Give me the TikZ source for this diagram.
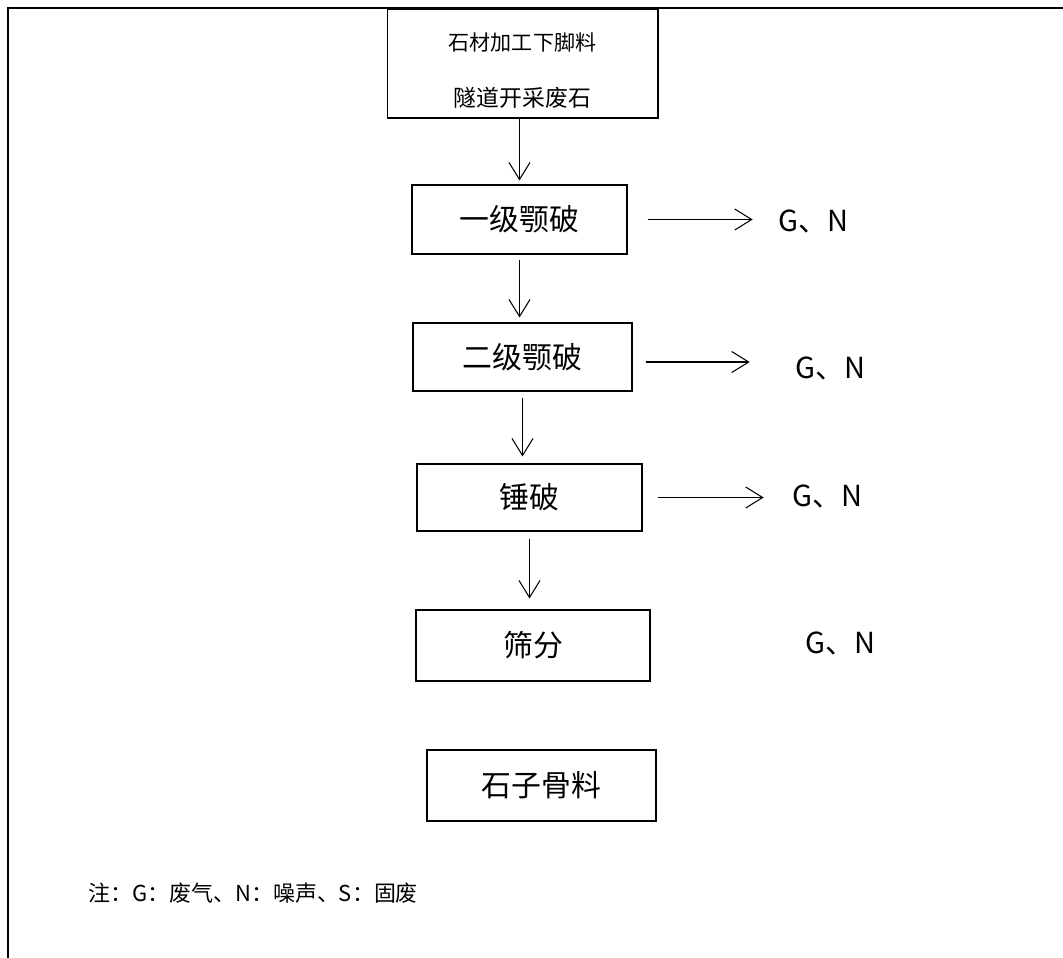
\documentclass[tikz,border=0pt]{standalone}
\usepackage{fontspec}
\setmainfont{Noto Sans CJK SC}
\usetikzlibrary{arrows.meta}

\begin{document}
\begin{tikzpicture}[x=0.02cm, y=-0.02cm,
  box/.style={draw, line width=0.6pt, inner sep=0pt, font=\fontsize{17}{19}\selectfont},
  arr/.style={-{Straight Barb[length=3.4mm,width=4.2mm]}, line width=0.6pt},
  gnlabel/.style={font=\fontsize{16.5}{18}\selectfont, inner sep=0pt}]
\useasboundingbox (0,0) rectangle (1063,958);

% Frame
\draw[line width=0.8pt] (8,958) -- (8,8) -- (1063,8);

% Raw material
\node[box, minimum width=5.42cm, minimum height=2.18cm] (src) at (522.5,63.5) {};
\node[font=\fontsize{12}{14}\selectfont, inner sep=0pt] (srcA) at (522.5,42) {石材加工下脚料};
\node[font=\fontsize{13}{15}\selectfont, inner sep=0pt] (srcB) at (522.5,98) {隧道开采废石};

% Crushing steps
\node[box, minimum width=4.30cm, minimum height=1.38cm] (crush1) at (519.5,219.5) {一级颚破};
\node[box, minimum width=4.38cm, minimum height=1.36cm] (crush2) at (522.5,357) {二级颚破};
\node[box, minimum width=4.50cm, minimum height=1.34cm] (hammer) at (529.5,497.5) {锤破};
\node[box, minimum width=4.68cm, minimum height=1.42cm] (screen) at (533,645.5) {筛分};
\node[box, minimum width=4.58cm, minimum height=1.42cm] (product) at (541.5,785.5) {石子骨料};

% Emissions
\node[gnlabel] (gn1) at (813,221) {G、N};
\node[gnlabel] (gn2) at (830,368) {G、N};
\node[gnlabel] (gn3) at (827,496) {G、N};
\node[gnlabel] (gn4) at (840,643) {G、N};

% Arrows down
\draw[arr, shorten >=0.08cm] (crush1.north |- src.south) -- (crush1.north);
\draw[arr, shorten <=0.1cm, shorten >=0.1cm] (crush1.south) -- (crush1.south |- crush2.north);
\draw[arr, shorten <=0.12cm, shorten >=0.14cm] (crush2.south) -- (crush2.south |- hammer.north);
\draw[arr, shorten <=0.14cm, shorten >=0.22cm] (hammer.south) -- (hammer.south |- screen.north);

% Arrows right
\draw[arr, shorten <=0.4cm, shorten >=0.5cm] (crush1.east) -- (crush1.east -| gn1.west);
\draw[arr, shorten <=0.26cm, shorten >=0.9cm] ([yshift=-0.1cm]crush2.east) -- ([yshift=-0.1cm]crush2.east -| gn2.west);
\draw[arr, shorten <=0.3cm, shorten >=0.56cm] (hammer.east) -- (hammer.east -| gn3.west);

% Note
\node[anchor=west, inner sep=0pt, font=\fontsize{12.5}{14}\selectfont] (note) at (88,893) {注：G：废气、N：噪声、S：固废};
\end{tikzpicture}
\end{document}
